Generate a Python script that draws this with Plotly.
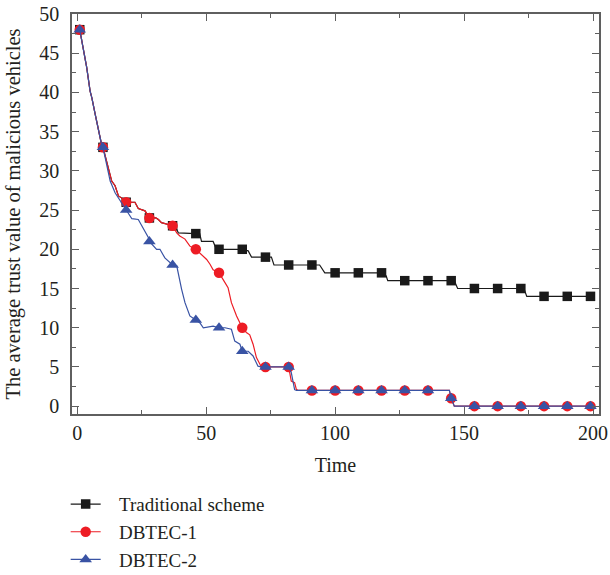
import plotly.graph_objects as go

# Sampling instants where the markers are drawn
mark_t = [1, 10, 19, 28, 37, 46, 55, 64, 73, 82, 91, 100, 109, 118, 127,
          136, 145, 154, 163, 172, 181, 190, 199]

trad_marks = [48, 33, 26, 24, 23, 22, 20, 20, 19, 18, 18, 17, 17, 17, 16,
              16, 16, 15, 15, 15, 14, 14, 14]
dbtec1_marks = [48, 33, 26, 24, 23, 20, 17, 10, 5, 5, 2, 2, 2, 2, 2,
                2, 1, 0, 0, 0, 0, 0, 0]
dbtec2_marks = [48, 33, 25, 21, 18, 11, 10, 7, 5, 5, 2, 2, 2, 2, 2,
                2, 1, 0, 0, 0, 0, 0, 0]

# Full trajectories (vertices of the simulated curves)
trad_t = [1, 2.5, 3.7, 5, 5.7, 7, 8.2, 9.5, 10, 12.1, 13.4, 14.7, 16, 17.9,
          19, 22.4, 23.7, 26.3, 28, 30.5, 31.5, 32.7, 35.3, 37, 38, 39.2, 46,
          47.5, 48.2, 52.7, 54, 55, 64, 66.3, 67.6, 73, 75.3, 76.3, 82, 91,
          94, 96, 100, 118, 119.8, 120.4, 145, 146.2, 147.5, 172, 173.2,
          174.3, 200]
trad_v = [48, 45.3, 43.2, 40.2, 39.3, 37.2, 35.1, 33.3, 33, 30.2, 28.7, 28.1,
          26.8, 26.4, 26, 26, 25.2, 24.9, 24, 24, 23.8, 23.4, 23.1, 23, 23,
          22.1, 22, 22, 21, 21, 20, 20, 20, 19.8, 19, 19, 19, 18, 18, 18, 18,
          17, 17, 17, 16.6, 16, 16, 16, 15, 15, 15, 14, 14]

dbtec1_t = [1, 2.5, 3.7, 5, 5.7, 7, 8.2, 9.5, 10, 12.1, 13.4, 14.7, 16, 17.9,
            19, 22.4, 23.7, 26.3, 28, 30.5, 31.5, 32.7, 35.3, 37, 38.6, 39.8,
            41.8, 43.7, 46, 48.2, 50.2, 51.5, 52.7, 55, 57.3, 58.5, 59.8,
            61.8, 64, 65.6, 66.9, 68.2, 69.5, 71.4, 73, 82, 83, 84.3, 85, 86,
            144.3, 145, 146.2, 200]
dbtec1_v = [48, 45.3, 43.2, 40.2, 39.3, 37.2, 35.1, 33.3, 33, 30.2, 28.7,
            28.1, 26.8, 26.4, 26, 26, 25.2, 24.9, 24, 24, 23.8, 23.4, 23.1, 23,
            22.1, 21.7, 21.3, 20.4, 20, 19.3, 18.7, 18.1, 17.4, 17, 15.7, 15.1,
            13.2, 11.5, 10, 9.4, 9.1, 7.9, 6.2, 5, 5, 5, 3.2, 3.0, 2.1, 2, 2,
            1, 0, 0]

dbtec2_t = [1, 2.5, 3.7, 5, 5.7, 7, 8.2, 9.5, 10, 11.5, 12.8, 14.7, 17.3, 19,
            21.2, 23.7, 25.6, 27.6, 28, 30.8, 32.1, 34, 37, 38.6, 40.5, 41.8,
            43.7, 46, 47.6, 48.9, 52.7, 55, 57.3, 59.8, 61.1, 63.1, 64, 66.3,
            66.9, 68.2, 70.1, 71.4, 73, 82, 83, 84.3, 85, 144.3, 145, 146.2,
            200]
dbtec2_v = [48, 45.3, 43.2, 40.2, 39.3, 37.2, 35.1, 33.3, 33, 30.8, 28.7,
            27.2, 25.9, 25, 23.9, 23.8, 22.7, 21.5, 21, 20, 20, 18.9, 18, 17.9,
            14.9, 13.2, 11.5, 11, 10.6, 10, 10.2, 10, 10, 9.8, 8.3, 7.9, 7, 7,
            6.8, 6.4, 5.1, 5, 5, 5, 4.3, 2.1, 2, 2, 1, 0, 0]

FONT = "Liberation Serif"
TEXT = "#231f20"
AXIS = "#5f5f5f"
GAP = "\u2002\u2009"  # widen the gap between legend symbol and label

series = [
    ("Traditional scheme", trad_t, trad_v, trad_marks, "#1a1a1a", "square", 9.5),
    ("DBTEC-1", dbtec1_t, dbtec1_v, dbtec1_marks, "#ed1c24", "circle", 10.5),
    ("DBTEC-2", dbtec2_t, dbtec2_v, dbtec2_marks, "#3953a4", "triangle-up", 11),
]

fig = go.Figure()
for name, t, v, m, color, symbol, size in series:
    fig.add_trace(go.Scatter(
        x=t, y=v, mode="lines", line=dict(color=color, width=1.2),
        showlegend=False, legendgroup=name, hoverinfo="skip"))
    fig.add_trace(go.Scatter(
        x=mark_t, y=m, mode="markers", showlegend=False, legendgroup=name,
        marker=dict(symbol=symbol, size=size, color=color, line=dict(width=0))))
for name, t, v, m, color, symbol, size in series:
    fig.add_trace(go.Scatter(
        x=[None], y=[None], mode="lines+markers", name=GAP + name,
        legendgroup=name, line=dict(color=color, width=1.2),
        marker=dict(symbol=symbol, size=size, color=color, line=dict(width=0))))

axis_common = dict(
    showline=True, linecolor=AXIS, linewidth=1.6, mirror="allticks",
    ticks="inside", ticklen=7, tickwidth=1.3, tickcolor=AXIS,
    showgrid=False, zeroline=False,
    tickfont=dict(family=FONT, size=20, color=TEXT),
)

fig.update_layout(
    width=610, height=575,
    margin=dict(l=72, r=11, t=14, b=161, autoexpand=False),
    plot_bgcolor="white", paper_bgcolor="white",
    font=dict(family=FONT, size=20, color=TEXT),
    xaxis=dict(range=[-2, 202.3], tickvals=[0, 50, 100, 150, 200],
               minor=dict(ticks="inside", ticklen=4, dtick=25, tick0=0,
                          tickcolor=AXIS),
               ticklabelstandoff=0,
               title=dict(text="Time", font=dict(family=FONT, size=20, color=TEXT),
                          standoff=15),
               **axis_common),
    yaxis=dict(range=[-1.0, 50], tickvals=list(range(0, 51, 5)),
               minor=dict(ticks="inside", ticklen=4, dtick=2.5, tick0=0,
                          tickcolor=AXIS),
               ticklabelstandoff=7,
               title=dict(text="The average trust value of malicious vehicles",
                          font=dict(family=FONT, size=20.5, color=TEXT),
                          standoff=13),
               **axis_common),
    legend=dict(x=-0.012, xanchor="left", y=-0.178, yanchor="top",
                bgcolor="rgba(0,0,0,0)",
                font=dict(family=FONT, size=19, color=TEXT),
                tracegroupgap=0),
)

fig.write_html("out.html")
